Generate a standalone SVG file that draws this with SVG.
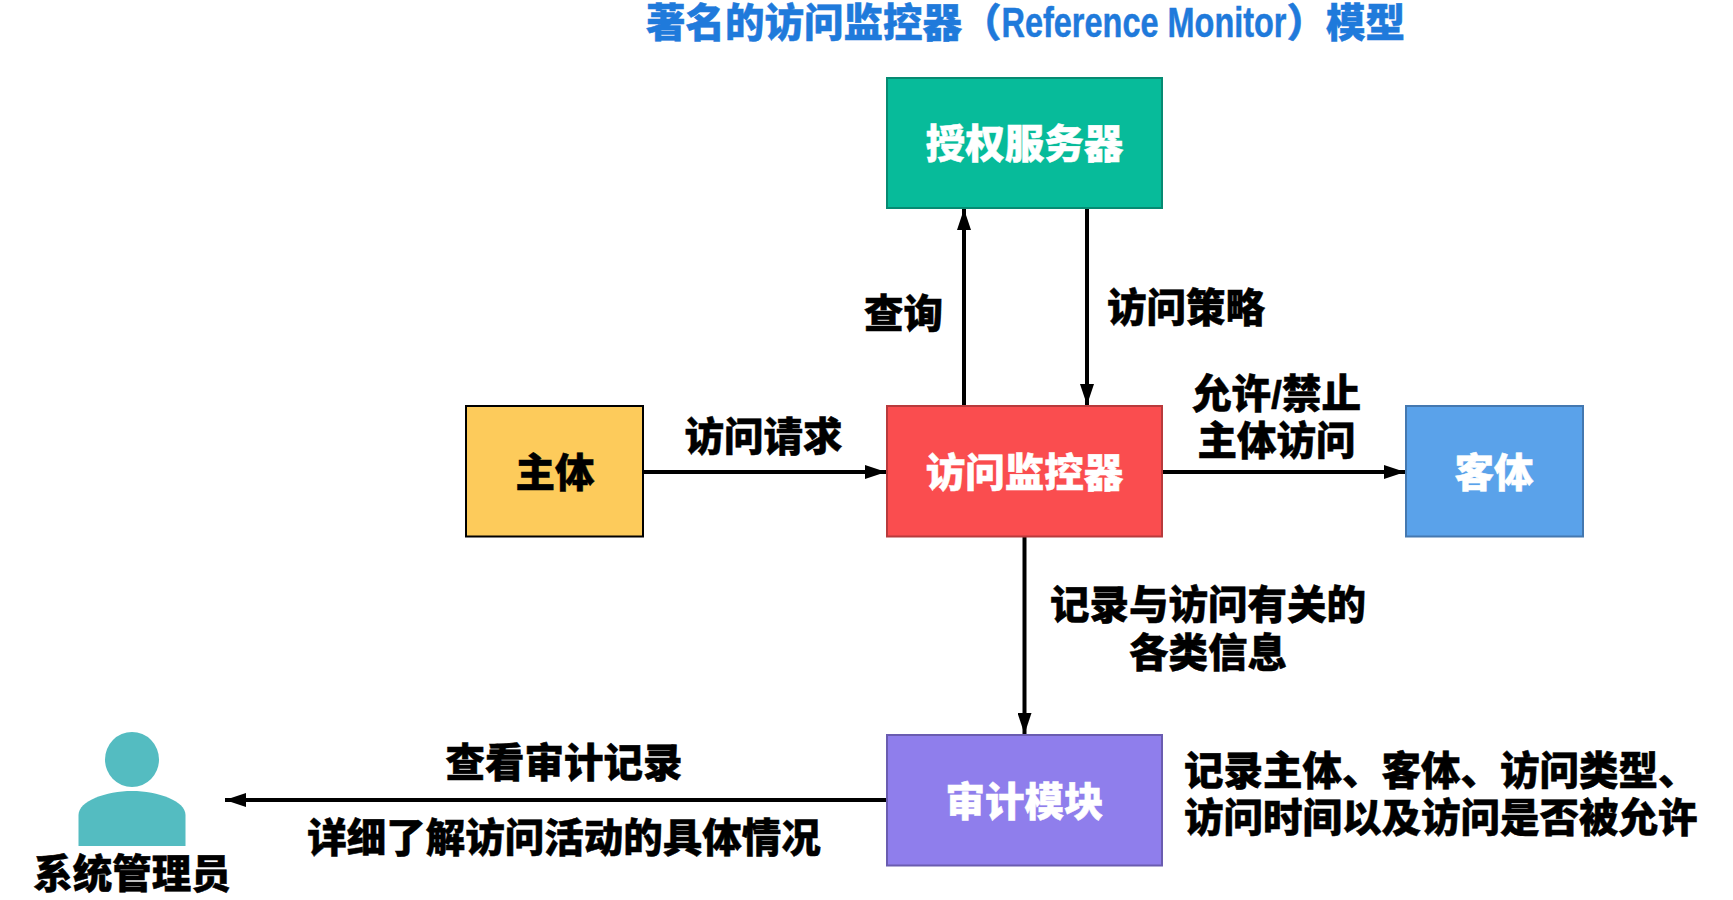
<svg xmlns="http://www.w3.org/2000/svg" width="1733" height="900" viewBox="0 0 1733 900">
<style>
text{font-family:"Liberation Sans","Noto Sans CJK SC",sans-serif;font-weight:900;font-size:39.5px;fill:#000;stroke:#000;stroke-width:.5px}
.c{text-anchor:middle}
.w{fill:#fff;stroke:#fff}
.box{stroke-width:2}
.ln{stroke:#000;stroke-width:4;fill:none;marker-end:url(#ah)}
</style>
<defs>
<marker id="ah" markerUnits="userSpaceOnUse" markerWidth="22" markerHeight="14" refX="21" refY="7" orient="auto"><path d="M0 0L21 7L0 14Z" fill="#000"/></marker>
</defs>
<rect width="1733" height="900" fill="#fff"/>
<text id="title" x="646" y="37" style="fill:#1F7ADB;stroke:#1F7ADB">著名的访问监控器（<tspan style="font-size:42px" textLength="285" lengthAdjust="spacingAndGlyphs">Reference Monitor</tspan>）模型</text>
<g id="connectors">
<line class="ln" x1="964" y1="405" x2="964" y2="209"/>
<line class="ln" x1="1087" y1="208" x2="1087" y2="405"/>
<line class="ln" x1="643" y1="472" x2="886" y2="472"/>
<line class="ln" x1="1162" y1="472" x2="1405" y2="472"/>
<line class="ln" x1="1024.5" y1="537" x2="1024.5" y2="734"/>
<line class="ln" x1="886" y1="800" x2="225" y2="800"/>
</g>
<g id="node-auth"><rect class="box" x="887" y="78" width="275" height="130" fill="#07BB9A" stroke="#068A72"/><text class="c w" x="1024.5" y="158">授权服务器</text></g>
<g id="node-monitor"><rect class="box" x="887" y="406" width="275" height="130.5" fill="#FA4D4F" stroke="#B83A3C"/><text class="c w" x="1024.5" y="487">访问监控器</text></g>
<g id="node-subject"><rect class="box" x="466" y="406" width="177" height="130.5" fill="#FDCB5B" stroke="#000"/><text class="c" x="555" y="487">主体</text></g>
<g id="node-object"><rect class="box" x="1406" y="406" width="177" height="130.5" fill="#5AA2EA" stroke="#4478B0"/><text class="c w" x="1494" y="487">客体</text></g>
<g id="node-audit"><rect class="box" x="887" y="735" width="275" height="130.5" fill="#8F7EEC" stroke="#6A5CB0"/><text class="c w" x="1024.5" y="816">审计模块</text></g>
<g id="node-admin"><ellipse cx="132" cy="759.5" rx="27" ry="27.5" fill="#54BCC1"/><path d="M78.5 846V815C78.5 801 106 791 132 791C158 791 185.5 801 185.5 815V846Z" fill="#54BCC1"/><text class="c" x="132" y="888">系统管理员</text></g>
<g id="labels">
<text class="c" x="763.5" y="451">访问请求</text>
<text class="c" x="903.5" y="327.5">查询</text>
<text class="c" x="1186" y="322">访问策略</text>
<text class="c" x="1276.5" y="407.5">允许/禁止</text>
<text class="c" x="1276.5" y="454.5">主体访问</text>
<text class="c" x="1208" y="619">记录与访问有关的</text>
<text class="c" x="1208" y="667">各类信息</text>
<text class="c" x="564" y="777">查看审计记录</text>
<text class="c" x="564" y="852">详细了解访问活动的具体情况</text>
<text x="1184" y="785">记录主体、客体、访问类型、</text>
<text x="1184" y="832">访问时间以及访问是否被允许</text>
</g>
</svg>
